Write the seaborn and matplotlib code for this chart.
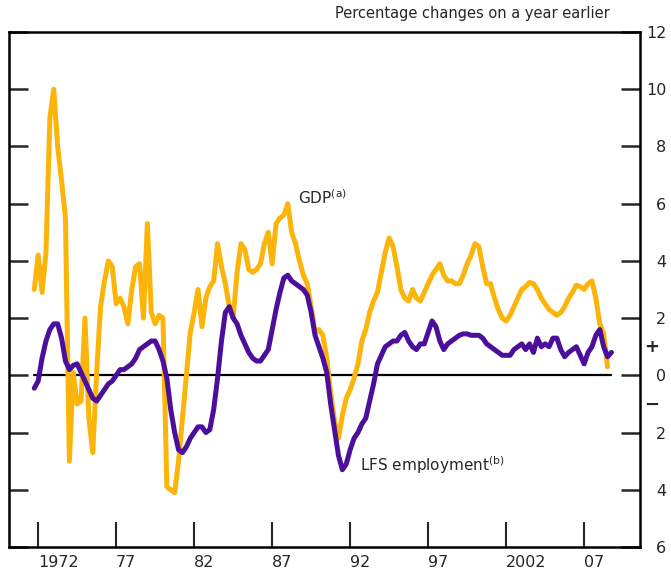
import numpy as np
import pandas as pd
import matplotlib
matplotlib.use("Agg")
import matplotlib.pyplot as plt
import seaborn as sns

# quarterly data, first point 1971 Q4
start_year = 1971.75

# GDP, % change on a year earlier
gdp = [3.0,
       4.2, 2.9, 4.3, 9.0,
       10.0, 8.0, 6.8, 5.5,
       -3.0, 0.1, -1.0, -0.9,
       2.0, -1.5, -2.7, 0.1,
       2.4, 3.3, 4.0, 3.8,
       2.5, 2.7, 2.4, 1.8,
       3.0, 3.8, 3.9, 2.0,
       5.3, 2.2, 1.8, 2.1,
       2.0, -3.9, -4.0, -4.1,
       -3.0, -1.5, 0.0, 1.5,
       2.2, 3.0, 1.7, 2.7,
       3.1, 3.3, 4.6, 3.8,
       3.2, 2.4, 2.0, 3.6,
       4.6, 4.4, 3.7, 3.6,
       3.7, 3.9, 4.6, 5.0,
       3.9, 5.3, 5.5, 5.6,
       6.0, 5.0, 4.6, 4.0,
       3.5, 3.2, 2.4, 1.5,
       1.6, 1.4, 0.6, -0.6,
       -1.6, -2.2, -1.4, -0.8,
       -0.5, -0.1, 0.4, 1.2,
       1.6, 2.2, 2.6, 2.9,
       3.6, 4.3, 4.8, 4.5,
       3.8, 3.0, 2.7, 2.6,
       3.0, 2.7, 2.6, 2.9,
       3.2, 3.5, 3.7, 3.9,
       3.5, 3.3, 3.3, 3.2,
       3.2, 3.5, 3.9, 4.2,
       4.6, 4.5, 3.8, 3.2,
       3.2, 2.7, 2.3, 2.0,
       1.9, 2.1, 2.4, 2.7,
       3.0, 3.1, 3.25, 3.2,
       3.0, 2.7, 2.5, 2.3,
       2.2, 2.1, 2.2, 2.4,
       2.7, 2.9, 3.15, 3.1,
       3.0, 3.2, 3.3, 2.7,
       1.8, 1.45, 0.3]

# LFS employment, % change on a year earlier
employment = [-0.45,
              -0.2, 0.6, 1.2, 1.6,
              1.8, 1.8, 1.3, 0.5,
              0.2, 0.35, 0.4, 0.1,
              -0.2, -0.5, -0.8, -0.9,
              -0.7, -0.5, -0.3, -0.2,
              0.0, 0.2, 0.2, 0.3,
              0.4, 0.6, 0.9, 1.0,
              1.1, 1.2, 1.2, 0.9,
              0.5, -0.1, -1.2, -2.0,
              -2.6, -2.7, -2.5, -2.2,
              -2.0, -1.8, -1.8, -2.0,
              -1.9, -1.2, -0.1, 1.2,
              2.2, 2.4, 2.0, 1.8,
              1.4, 1.1, 0.8, 0.6,
              0.5, 0.5, 0.7, 0.9,
              1.6, 2.3, 2.9, 3.4,
              3.5, 3.3, 3.2, 3.1,
              3.0, 2.8, 2.2, 1.4,
              1.0, 0.6, 0.1, -1.0,
              -1.9, -2.8, -3.3, -3.1,
              -2.6, -2.2, -2.0, -1.7,
              -1.5, -0.9, -0.3, 0.4,
              0.7, 1.0, 1.1, 1.2,
              1.2, 1.4, 1.5, 1.2,
              1.0, 0.9, 1.1, 1.1,
              1.5, 1.9, 1.7, 1.2,
              0.9, 1.1, 1.2, 1.3,
              1.4, 1.45, 1.45, 1.4,
              1.4, 1.4, 1.3, 1.1,
              1.0, 0.9, 0.8, 0.7,
              0.7, 0.7, 0.9, 1.0,
              1.1, 0.9, 1.1, 0.8,
              1.3, 1.0, 1.1, 1.0,
              1.3, 1.3, 0.9, 0.65,
              0.8, 0.9, 1.0, 0.7,
              0.4, 0.8, 1.0, 1.4,
              1.6, 1.0, 0.65, 0.8]

xtick_years = [1972, 1977, 1982, 1987, 1992, 1997, 2002, 2007]
xtick_labels = ['1972', '77', '82', '87', '92', '97', '2002', '07']
yticks = [-6, -4, -2, 0, 2, 4, 6, 8, 10, 12]

gdp_df = pd.DataFrame({'date': start_year + 0.25 * np.arange(len(gdp)), 'value': gdp})
emp_df = pd.DataFrame({'date': start_year + 0.25 * np.arange(len(employment)), 'value': employment})

sns.set_style('ticks')
plt.rcParams['font.family'] = ['DejaVu Sans']

fig = plt.figure(figsize=(6.71, 5.77), dpi=100)
ax = fig.add_axes([0.0134, 0.052, 0.9404, 0.8925])

# zero line over the data range
ax.plot([gdp_df['date'].min(), emp_df['date'].max()], [0, 0], color='black', lw=1.6, zorder=1)

sns.lineplot(data=gdp_df, x='date', y='value', color='#FBB50A', lw=3.6, ax=ax, zorder=2)
sns.lineplot(data=emp_df, x='date', y='value', color='#4B0F9B', lw=3.6, ax=ax, zorder=3)

ax.set_xlim(1970.13, 2010.58)
ax.set_ylim(-6, 12)
ax.set_xlabel('')
ax.set_ylabel('')

for s in ax.spines.values():
    s.set_visible(True)
    s.set_linewidth(1.8)
    s.set_color('black')

ax.set_yticks(yticks)
ax.set_yticklabels([str(abs(v)) for v in yticks])
ax.tick_params(axis='y', left=True, right=True, labelleft=False, labelright=True,
               direction='in', length=14, width=1.8, pad=19, labelsize=11.5)
for lab in ax.get_yticklabels():
    lab.set_horizontalalignment('right')

ax.set_xticks(xtick_years)
ax.set_xticklabels(xtick_labels)
ax.tick_params(axis='x', direction='in', length=18, width=1.5, pad=6, labelsize=11.5)
for lab in ax.get_xticklabels():
    lab.set_horizontalalignment('left')

# sign markers beside the zero line
ax.text(1.018, 1.0, '+', transform=ax.get_yaxis_transform(), ha='center', va='center',
        fontsize=13, fontweight='bold', clip_on=False)
ax.text(1.018, -1.05, '\u2212', transform=ax.get_yaxis_transform(), ha='center', va='center',
        fontsize=13, fontweight='bold', clip_on=False)

ax.text(1988.65, 6.2, r'GDP$^{\rm (a)}$', ha='left', va='center', fontsize=11)
ax.text(1992.6, -3.15, r'LFS employment$^{\rm (b)}$', ha='left', va='center', fontsize=11)

fig.text(0.909, 0.976, 'Percentage changes on a year earlier', ha='right', va='center', fontsize=10.5)

fig.savefig('out.png', dpi=100)
